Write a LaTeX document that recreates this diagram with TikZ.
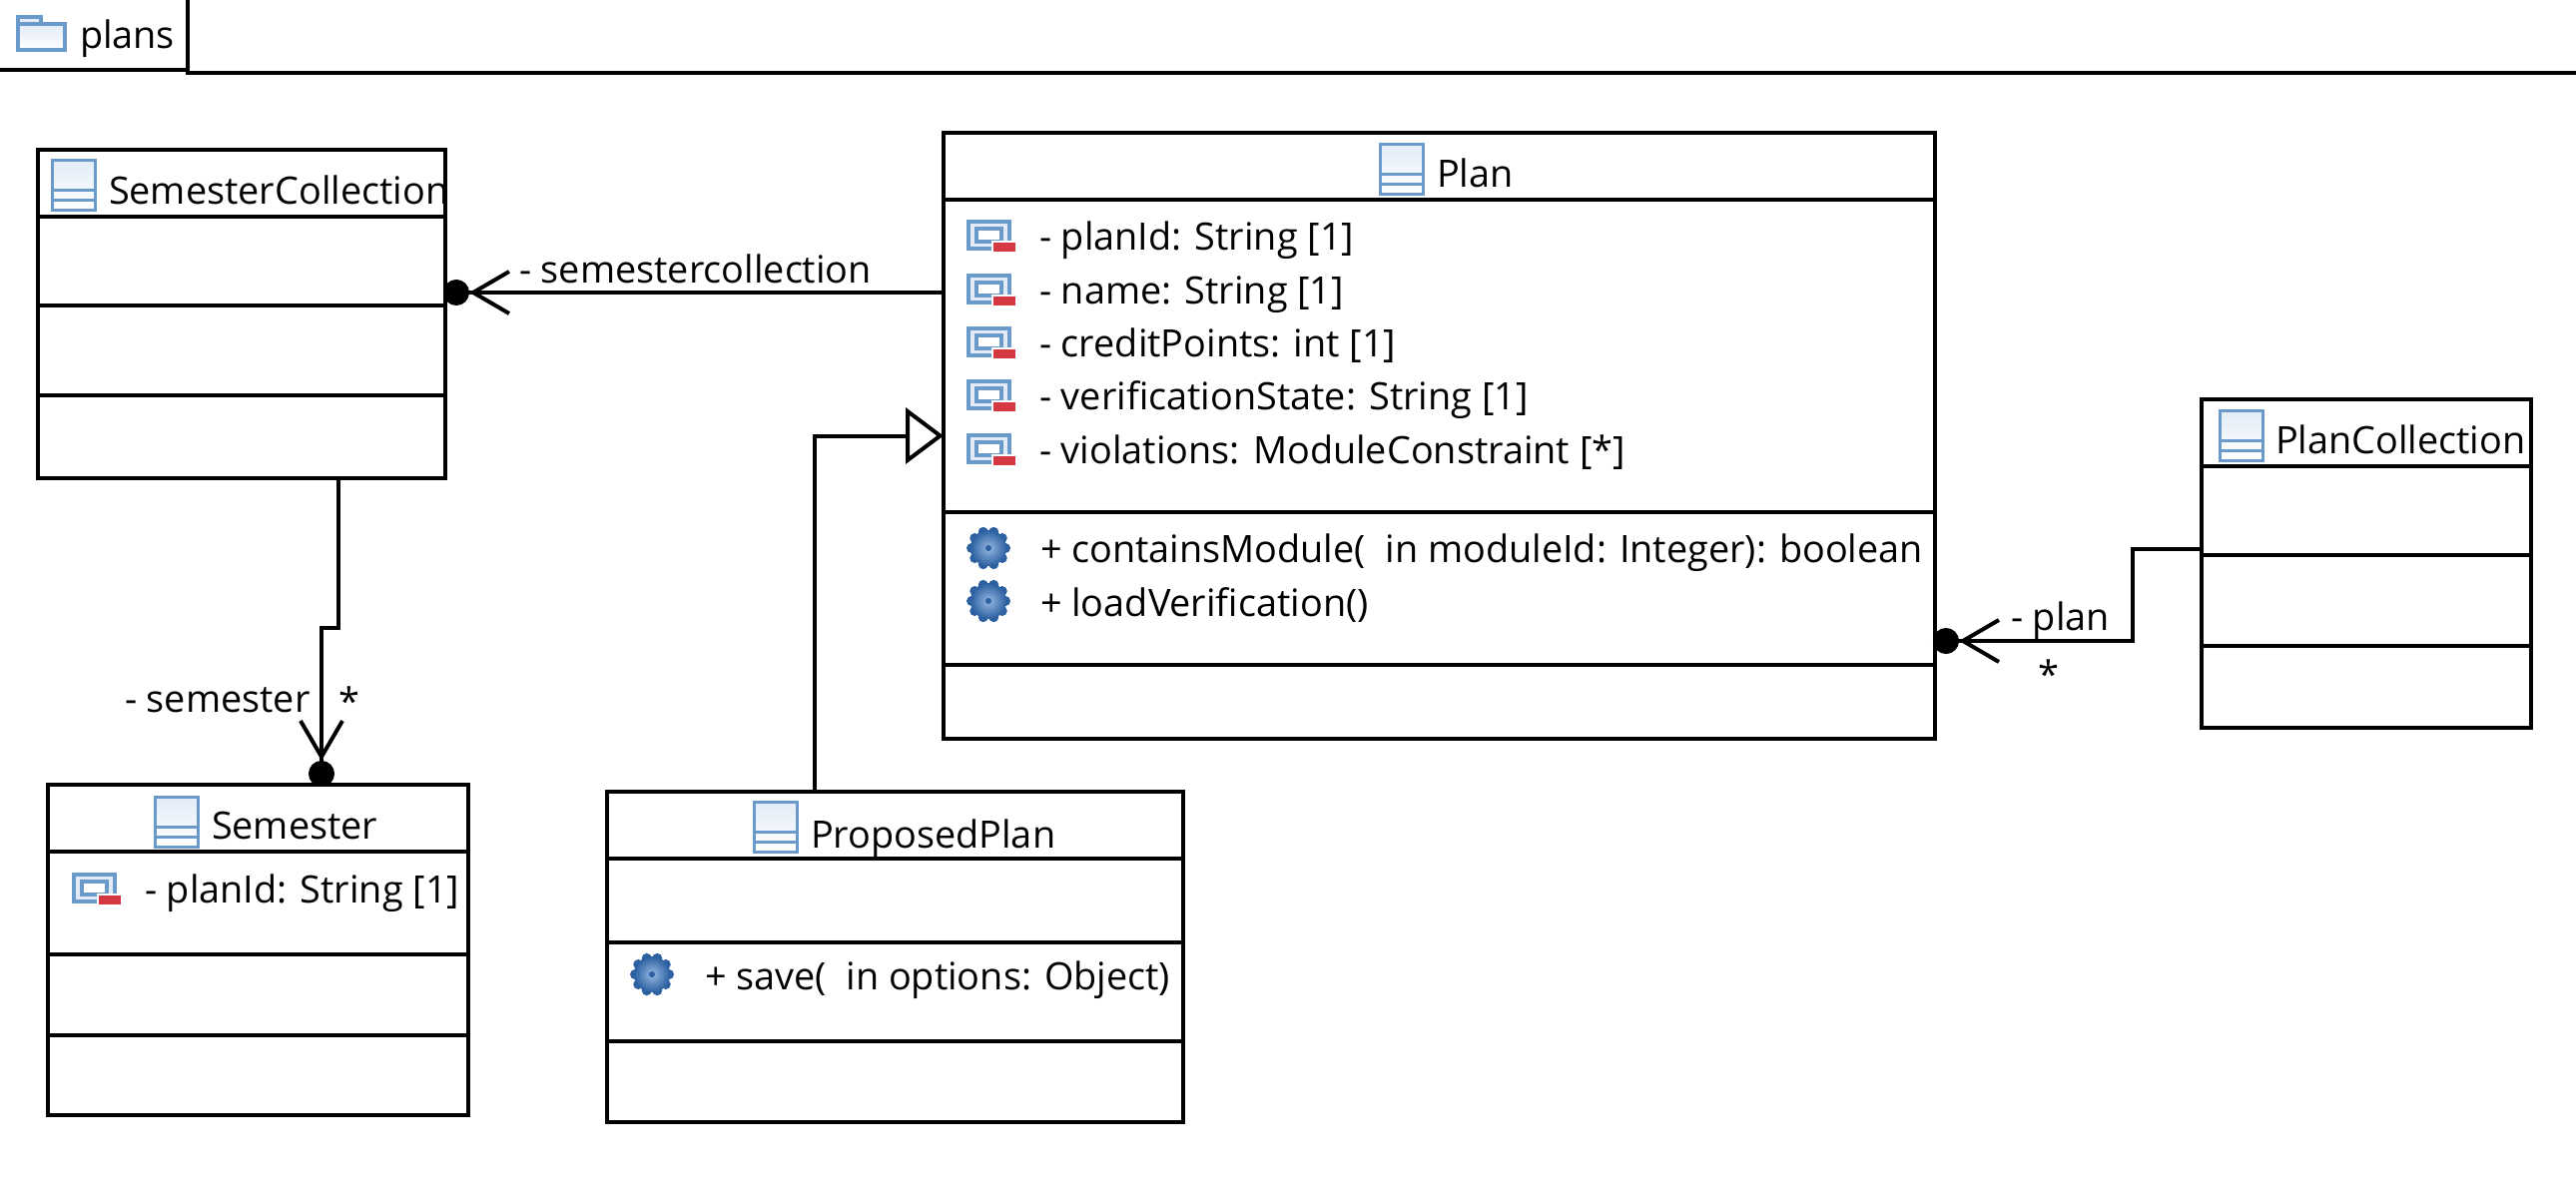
\documentclass[tikz,border=0pt]{standalone}
\usepackage{fontspec}
\setmainfont{Open Sans}
\usetikzlibrary{positioning,arrows.meta}
\definecolor{iconblue}{RGB}{106,154,202}
\definecolor{iconpale}{RGB}{226,235,247}
\definecolor{iconred}{RGB}{214,56,66}
\definecolor{gearblue}{RGB}{44,96,160}
\definecolor{gearpale}{RGB}{150,184,226}
\tikzset{
  x=0.5pt,y=-0.5pt,
  every path/.append style={line width=2pt},
  umlbox/.style={draw,rectangle,inner sep=0pt,outer sep=0pt,fill=white},
  lbl/.style={anchor=base west,inner sep=0pt,outer sep=0pt,yshift=-1pt,font=\fontsize{18.9}{22}\selectfont},
  owned/.style={shorten >=1pt,-{Straight Barb[length=18pt,width=21pt]Circle[length=13pt,width=13pt,sep=-2pt]}},
  inherits/.style={-{Triangle[open,fill=white,length=19pt,width=28pt]}},
  classicon/.pic={
    \draw[iconblue,line width=1.5pt,top color=iconpale,bottom color=white] (0,0) rectangle (43,50);
    \draw[iconblue,line width=1.5pt] (0,30) -- (43,30) (0,40) -- (43,40);
  },
  attricon/.pic={
    \draw[iconblue,line width=2pt,fill=iconpale] (2,2) rectangle (43,29);
    \draw[iconblue,line width=1.6pt,fill=white] (10,9) rectangle (35,22);
    \draw[white,line width=1pt,fill=iconred] (26,22) rectangle (50,33);
  },
  foldericon/.pic={
    \draw[iconblue,line width=1.6pt,fill=iconpale] (0,0) rectangle (23,8);
    \draw[iconblue,line width=1.8pt,top color=iconpale,bottom color=white] (0,7) rectangle (47,33);
  },
  gearicon/.pic={
    \foreach \a in {0,36,...,324}
      \fill[gearblue] (\a:17) circle (5);
    \shade[inner color=gearpale,outer color=gearblue] (0,0) circle (18);
    \fill[gearblue] (0,0) circle (3);
  },
}

\begin{document}
\begin{tikzpicture}
\useasboundingbox (0,0) rectangle (2580,1201);

% package tab
\node[lbl] (plans) at (80,46) {plans};
\pic at (18,17) {foldericon};
\draw (0,70) -- (188,70);
\draw (188,0) -- (188,73) -- (2580,73);

% classes
\node[umlbox,minimum width=204pt,minimum height=164.5pt] (semc) at (242,314.5) {};
\node[umlbox,minimum width=496.5pt,minimum height=303.5pt] (plan) at (1441.5,436.5) {};
\node[umlbox,minimum width=210.5pt,minimum height=165.5pt] (semester) at (258.5,951.5) {};
\node[umlbox,minimum width=288.5pt,minimum height=165.5pt] (proposed) at (896.5,958.5) {};
\node[umlbox,minimum width=165pt,minimum height=164.5pt] (plancoll) at (2370,564.5) {};

% compartments
\foreach \y in {217,306,396}
  \draw (semc.west |- 0,\y) -- (semc.east |- 0,\y);
\foreach \y in {200,513,666}
  \draw (plan.west |- 0,\y) -- (plan.east |- 0,\y);
\foreach \y in {853,956,1037}
  \draw (semester.west |- 0,\y) -- (semester.east |- 0,\y);
\foreach \y in {860,944,1043}
  \draw (proposed.west |- 0,\y) -- (proposed.east |- 0,\y);
\foreach \y in {467,556,647}
  \draw (plancoll.west |- 0,\y) -- (plancoll.east |- 0,\y);

% titles
\pic at (52,160) {classicon};
\node[lbl] (semctitle) at (109,202) {SemesterCollection};
\pic at (1382,144) {classicon};
\node[lbl] (plantitle) at (1439,185) {Plan};
\pic at (155,798) {classicon};
\node[lbl] (semestertitle) at (212,838) {Semester};
\pic at (755,803) {classicon};
\node[lbl] (proposedtitle) at (812,847) {ProposedPlan};
\pic at (2223,411) {classicon};
\node[lbl] (plancolltitle) at (2279,452) {PlanCollection};

% attributes
\foreach \y/\txt [count=\i] in {248/{- planId: String [1]},302/{- name: String [1]},355/{- creditPoints: int [1]},408/{- verificationState: String [1]},462/{- violations: ModuleConstraint [*]}}{
  \pic at (968,\y-28) {attricon};
  \node[lbl] (planattr\i) at (1041,\y) {\txt};
}
\pic at (72,874) {attricon};
\node[lbl] (semesterattr) at (145,902) {- planId: String [1]};

% operations
\pic at (990,549) {gearicon};
\node[lbl] (planop1) at (1042,561) {+ containsModule(~ in moduleId: Integer): boolean};
\pic at (990,602) {gearicon};
\node[lbl] (planop2) at (1042,615) {+ loadVerification()};
\pic at (653,976) {gearicon};
\node[lbl] (proposedop) at (706,989) {+ save(~ in options: Object)};

% connectors
\draw[owned] ([shift={(0,-143.5)}]plan.west) -- ([shift={(0,-21.5)}]semc.east);
\draw[owned] ([shift={(97,0)}]semc.south) -- ++(0,150) -- ++(-17,0) -- ([shift={(63.5,0)}]semester.north);
\draw[inherits] ([shift={(-80.5,0)}]proposed.north) |- (plan.west);
\draw[owned] ([shift={(0,-14.5)}]plancoll.west) -- ++(-69,0) |- ([shift={(0,205.5)}]plan.east);

% connector labels
\node[lbl] (semclabel) at (520,281) {- semestercollection};
\node[lbl] (semesterlabel) at (125,711) {- semester};
\node[lbl] (semesterstar) at (339,714) {*};
\node[lbl] (planlabel) at (2014,629) {- plan};
\node[lbl] (planstar) at (2041,687) {*};
\end{tikzpicture}
\end{document}
